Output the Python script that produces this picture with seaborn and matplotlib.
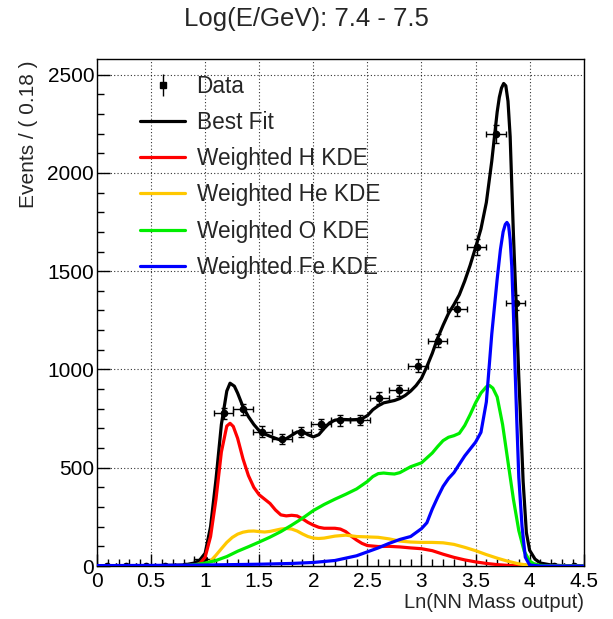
import numpy as np
import pandas as pd
import seaborn as sns
import matplotlib
matplotlib.use("Agg")
import matplotlib.pyplot as plt
from matplotlib.ticker import MultipleLocator, FuncFormatter
from matplotlib.lines import Line2D

# ---------------- data ----------------
TITLE = "Log(E/GeV): 7.4 - 7.5"
X_LABEL = "Ln(NN Mass output)"
Y_LABEL = "Events / ( 0.18 )"

DATA_X = [0.09, 0.27, 0.45, 0.63, 0.81, 0.99, 1.17, 1.35, 1.53, 1.71, 1.89, 2.07, 2.25,
          2.43, 2.61, 2.79, 2.97, 3.15, 3.33, 3.51, 3.69, 3.87, 4.05, 4.23, 4.41]
DATA_Y = [0, 0, 0, 0, 0, 35, 778, 797, 684, 645, 681, 723, 742,
          743, 854, 893, 1019, 1146, 1307, 1621, 2197, 1340, 0, 0, 0]
BIN_HALF = 0.09

FIT_X = [0, 0.5, 0.8, 0.9, 0.95, 1.0, 1.05, 1.1, 1.15, 1.2, 1.23, 1.27, 1.3, 1.35, 1.4,
         1.45, 1.5, 1.55, 1.6, 1.65, 1.7, 1.75, 1.8, 1.85, 1.9, 1.95, 2.0, 2.05, 2.1, 2.15,
         2.2, 2.25, 2.3, 2.35, 2.4, 2.45, 2.5, 2.55, 2.6, 2.65, 2.7, 2.75, 2.8, 2.85, 2.9,
         2.95, 3.0, 3.05, 3.1, 3.15, 3.2, 3.25, 3.3, 3.35, 3.4, 3.45, 3.5, 3.55, 3.6, 3.65,
         3.7, 3.72, 3.74, 3.76, 3.78, 3.8, 3.82, 3.85, 3.875, 3.9, 3.92, 3.94, 3.97,
         4.0, 4.05, 4.1, 4.2, 4.3, 4.5]
FIT_Y = [0, 1, 5, 15, 30, 65, 200, 440, 720, 890, 930, 915, 880, 810, 760,
         720, 688, 672, 660, 650, 640, 648, 665, 682, 685, 668, 657, 668, 700, 728,
         742, 746, 745, 744, 745, 750, 765, 795, 815, 830, 836, 842, 852, 868, 890,
         918, 955, 1015, 1082, 1160, 1225, 1285, 1330, 1380, 1450, 1530, 1620, 1715, 1850, 2060,
         2310, 2385, 2432, 2455, 2443, 2365, 2185, 1690, 1340, 960, 700, 430, 170,
         80, 35, 15, 5, 2, 1]

H_X = [0, 0.5, 0.8, 0.9, 0.95, 1.0, 1.05, 1.1, 1.15, 1.2, 1.23, 1.26, 1.3, 1.35, 1.4,
       1.45, 1.5, 1.55, 1.6, 1.65, 1.7, 1.75, 1.8, 1.85, 1.9, 1.95, 2.0, 2.05, 2.1, 2.15,
       2.2, 2.25, 2.3, 2.35, 2.4, 2.45, 2.5, 2.6, 2.7, 2.8, 2.9, 3.0, 3.1, 3.2, 3.3,
       3.4, 3.5, 3.6, 3.7, 3.8, 3.9, 4.0, 4.5]
H_Y = [0, 0, 1, 4, 12, 45, 150, 340, 580, 712, 726, 710, 650, 545, 460,
       400, 362, 340, 318, 285, 260, 255, 258, 255, 240, 222, 208, 197, 192, 192,
       192, 188, 175, 152, 132, 115, 104, 99, 100, 97, 92, 88, 78, 60, 44,
       31, 21, 13, 7, 3, 1, 0, 0]

HE_X = [0, 0.8, 0.9, 1.0, 1.05, 1.1, 1.15, 1.2, 1.25, 1.3, 1.35, 1.4, 1.45, 1.5, 1.55,
        1.6, 1.65, 1.7, 1.75, 1.8, 1.85, 1.9, 1.95, 2.0, 2.05, 2.1, 2.2, 2.3, 2.4, 2.5,
        2.6, 2.7, 2.8, 2.9, 3.0, 3.1, 3.2, 3.3, 3.4, 3.5, 3.6, 3.7, 3.8, 3.9, 4.0, 4.1, 4.5]
HE_Y = [0, 0, 2, 10, 25, 55, 88, 120, 145, 162, 172, 177, 178, 175, 173,
        176, 182, 188, 191, 188, 178, 163, 150, 142, 140, 142, 152, 157, 150, 148,
        146, 138, 127, 122, 120, 120, 118, 110, 95, 78, 58, 40, 24, 11, 3, 0, 0]

O_X = [0, 0.5, 0.8, 0.9, 1.0, 1.1, 1.2, 1.3, 1.4, 1.5, 1.6, 1.7, 1.8, 1.9, 2.0,
       2.1, 2.2, 2.3, 2.4, 2.5, 2.55, 2.6, 2.65, 2.7, 2.75, 2.8, 2.85, 2.9, 2.95, 3.0,
       3.05, 3.1, 3.15, 3.2, 3.25, 3.3, 3.35, 3.4, 3.45, 3.5, 3.55, 3.6, 3.63, 3.66, 3.7,
       3.75, 3.8, 3.85, 3.9, 3.95, 4.0, 4.05, 4.1, 4.2, 4.5]
O_Y = [0, 0, 2, 6, 15, 28, 48, 75, 98, 122, 147, 175, 208, 243, 282,
       313, 340, 365, 392, 430, 455, 470, 473, 470, 468, 475, 490, 505, 515, 525,
       550, 575, 608, 638, 655, 663, 675, 715, 770, 830, 880, 912, 918, 905, 860,
       720, 530, 340, 180, 75, 25, 8, 3, 0, 0]

FE_X = [0, 0.5, 1.0, 1.5, 1.8, 2.0, 2.2, 2.4, 2.5, 2.6, 2.7, 2.8, 2.9, 3.0, 3.05,
        3.1, 3.15, 3.2, 3.25, 3.3, 3.35, 3.4, 3.45, 3.5, 3.55, 3.6, 3.65, 3.7, 3.73, 3.755,
        3.775, 3.79, 3.805, 3.82, 3.835, 3.85, 3.865, 3.88, 3.9, 3.93, 3.96, 4.0, 4.1, 4.5]
FE_Y = [2, 3, 5, 9, 13, 18, 28, 52, 72, 92, 115, 135, 150, 190, 220,
        290, 350, 405, 445, 475, 518, 560, 595, 630, 680, 835, 1180, 1460, 1610, 1700,
        1738, 1748, 1735, 1660, 1525, 1290, 1014, 760, 450, 200, 45, 5, 0, 0]

NAMES = ["Best Fit", "Weighted H KDE", "Weighted He KDE", "Weighted O KDE", "Weighted Fe KDE"]
COLORS = ["#000000", "#ff0000", "#ffc800", "#00ee00", "#0000ff"]

# ---------------- build tidy frame ----------------
frames = []
for name, xs, ys in zip(NAMES, [FIT_X, H_X, HE_X, O_X, FE_X], [FIT_Y, H_Y, HE_Y, O_Y, FE_Y]):
    frames.append(pd.DataFrame({"x": xs, "y": ys, "component": name}))
curves = pd.concat(frames, ignore_index=True)

sns.set_theme(style="ticks")
plt.rcParams["font.family"] = ["Liberation Sans", "DejaVu Sans"]

W, H = 613, 619
fig = plt.figure(figsize=(W / 100, H / 100), dpi=100)
ax = fig.add_axes([97 / W, 1 - 566 / H, (583.7 - 97) / W, (566 - 59.3) / H])

# data points
dy = np.sqrt(np.array(DATA_Y, dtype=float))
ax.errorbar(DATA_X, DATA_Y, xerr=BIN_HALF, yerr=dy, fmt="o", ms=4.5, color="black",
            ecolor="black", elinewidth=1, capsize=2, capthick=1, zorder=3)

sns.lineplot(data=curves, x="x", y="y", hue="component", hue_order=NAMES,
             palette=dict(zip(NAMES, COLORS)), estimator=None, sort=False,
             lw=2.3, legend=False, ax=ax, zorder=4)

ax.set_xlim(0, 4.5)
ax.set_ylim(0, 2578)
ax.set_xlabel("")
ax.set_ylabel("")

ax.xaxis.set_major_locator(MultipleLocator(0.5))
ax.xaxis.set_minor_locator(MultipleLocator(0.1))
ax.yaxis.set_major_locator(MultipleLocator(500))
ax.yaxis.set_minor_locator(MultipleLocator(100))
fmt = FuncFormatter(lambda v, p: "%g" % v)
ax.xaxis.set_major_formatter(fmt)
ax.yaxis.set_major_formatter(fmt)
ax.tick_params(which="both", direction="in", top=False, right=False, labelsize=15,
               colors="black", width=1)
ax.tick_params(which="major", length=9)
ax.tick_params(axis="y", which="major", pad=2)
ax.tick_params(axis="x", which="major", pad=4)
ax.tick_params(which="minor", length=5)
ax.grid(True, which="major", linestyle=(0, (1, 2)), color="black", lw=0.8, alpha=0.8)
for s in ax.spines.values():
    s.set_visible(True)
    s.set_color("black")
    s.set_linewidth(1)

# legend
dummy = ax.errorbar([np.nan], [np.nan], yerr=[1], fmt="s", ms=5, color="black",
                    elinewidth=1, capsize=0)
handles = [dummy] + [Line2D([], [], color=c, lw=2.3) for c in COLORS]
labels = ["Data"] + NAMES
ax.legend(handles, labels, loc="upper left", bbox_to_anchor=(140 / W, 1 - 75 / H),
          bbox_transform=fig.transFigure, frameon=False, fontsize=16.3,
          handlelength=2.0, handletextpad=0.5, labelspacing=0.58, borderpad=0,
          borderaxespad=0)

fig.text(0.5, 1 - 19 / H, TITLE, ha="center", va="center", fontsize=18.5)
fig.text(583.7 / W, 1 - 603 / H, X_LABEL, ha="right", va="center", fontsize=14.5)
fig.text(28 / W, 1 - 60 / H, Y_LABEL, ha="center", va="top", rotation=90, fontsize=15)

fig.savefig("out.png", dpi=100)
